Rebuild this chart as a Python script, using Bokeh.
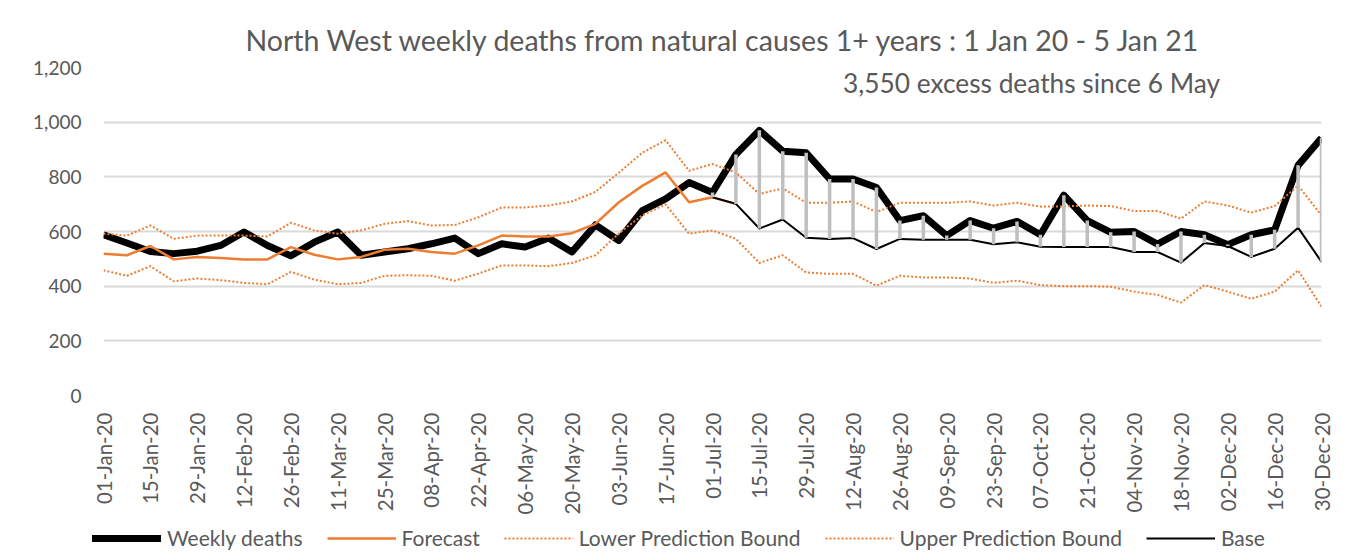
import math
from bokeh.plotting import figure
from bokeh.layouts import column
from bokeh.models import (ColumnDataSource, Range1d, FixedTicker, NumeralTickFormatter,
                          Label, Legend, LegendItem, Title)
from bokeh.embed import file_html
from bokeh.resources import INLINE

nan = float("nan")

# ---------------- data ----------------
tick_labels = ["01-Jan-20", "15-Jan-20", "29-Jan-20", "12-Feb-20", "26-Feb-20", "11-Mar-20",
               "25-Mar-20", "08-Apr-20", "22-Apr-20", "06-May-20", "20-May-20", "03-Jun-20",
               "17-Jun-20", "01-Jul-20", "15-Jul-20", "29-Jul-20", "12-Aug-20", "26-Aug-20",
               "09-Sep-20", "23-Sep-20", "07-Oct-20", "21-Oct-20", "04-Nov-20", "18-Nov-20",
               "02-Dec-20", "16-Dec-20", "30-Dec-20"]

weekly_deaths = [588, 558, 527, 519, 528, 549, 598, 549, 511, 561, 598, 513, 525, 537,
                 555, 576, 519, 555, 543, 576, 525, 624, 567, 676, 719, 779, 743, 882,
                 970, 894, 888, 792, 792, 761, 640, 658, 585, 640, 612, 637, 588,
                 733, 640, 597, 600, 554, 600, 588, 552, 588, 606, 842, 942]

forecast = [519, 513, 547, 498, 507, 503, 498, 498, 543, 515, 498, 507, 533, 537,
            525, 519, 549, 585, 582, 582, 594, 628, 707, 767, 816, 707, 725, 701] + [nan] * 25

lower_bound = [458, 438, 473, 418, 428, 422, 412, 407, 452, 424, 407, 412, 438, 440,
               438, 420, 446, 476, 476, 473, 485, 513, 593, 659, 699, 592, 604, 573,
               485, 513, 450, 445, 445, 402, 438, 432, 432, 428, 412, 420, 404,
               400, 400, 398, 380, 368, 340, 404, 380, 354, 380, 458, 325]

upper_bound = [592, 585, 622, 573, 585, 585, 585, 582, 632, 604, 592, 604, 628, 638,
               622, 624, 652, 688, 688, 695, 710, 745, 815, 888, 934, 822, 847, 816,
               737, 758, 705, 705, 710, 671, 705, 705, 705, 710, 695, 705, 691,
               692, 695, 693, 675, 675, 647, 710, 695, 669, 693, 768, 659]

base = [nan] * 26 + [725, 701, 611, 644, 577, 573, 576, 536, 573, 570, 570, 570, 553, 561,
                     544, 543, 543, 543, 525, 525, 486, 558, 547, 507, 537, 614, 489]

series_names = ["Weekly deaths", "Forecast", "Lower Prediction Bound",
                "Upper Prediction Bound", "Base"]
title_text = "North West weekly deaths from natural causes 1+ years : 1 Jan 20 - 5 Jan 21"
note_text = "3,550 excess deaths since 6 May"

# ---------------- styles ----------------
FONT = "Lato"
TXT = "#595959"
ORANGE = "#ED7D31"
styles = [dict(line_color="black", line_width=7, line_join="round"),
          dict(line_color=ORANGE, line_width=2.5),
          dict(line_color=ORANGE, line_width=2, line_dash="2 2"),
          dict(line_color=ORANGE, line_width=2, line_dash="2 2"),
          dict(line_color="black", line_width=2)]

# ---------------- main chart ----------------
week = list(range(len(weekly_deaths)))
src = ColumnDataSource(dict(x=week, weekly=weekly_deaths, forecast=forecast,
                            lower=lower_bound, upper=upper_bound, base=base))
seg_idx = [i for i in week if base[i] == base[i]]
seg = ColumnDataSource(dict(x=seg_idx, y0=[base[i] for i in seg_idx],
                            y1=[weekly_deaths[i] for i in seg_idx]))

p = figure(width=1339, height=518, output_backend="svg", toolbar_location=None,
           x_range=Range1d(0, len(week) - 1), y_range=Range1d(0, 1200),
           min_border_left=103, min_border_right=18, min_border_top=67, min_border_bottom=123)
p.title = Title(text=title_text, align="left", text_font=FONT, text_font_size="28.5px",
                text_color=TXT, text_font_style="normal", standoff=22, offset=142)
p.outline_line_color = None
p.background_fill_color = "white"
p.border_fill_color = "white"

p.xgrid.visible = False
p.ygrid.grid_line_color = "#D9D9D9"
p.ygrid.grid_line_width = 2

p.yaxis.ticker = FixedTicker(ticks=[0, 200, 400, 600, 800, 1000, 1200])
p.yaxis.formatter = NumeralTickFormatter(format="0,0")
p.xaxis.ticker = FixedTicker(ticks=list(range(0, len(week), 2)))
p.xaxis.major_label_overrides = {i * 2: lbl for i, lbl in enumerate(tick_labels)}
p.xaxis.major_label_orientation = math.pi / 2
for ax in (p.xaxis[0], p.yaxis[0]):
    ax.axis_line_color = None
    ax.major_tick_line_color = None
    ax.minor_tick_line_color = None
    ax.major_tick_out = 0
    ax.major_tick_in = 0
    ax.minor_tick_out = 0
    ax.minor_tick_in = 0
    ax.major_label_text_font = FONT
    ax.major_label_text_color = TXT
p.yaxis.major_label_text_font_size = "19px"
p.yaxis.major_label_standoff = 22
p.xaxis.major_label_text_font_size = "20.5px"
p.xaxis.major_label_standoff = 17

cols = ["weekly", "forecast", "lower", "upper", "base"]
for c, st in zip(cols, styles):
    p.line("x", c, source=src, **st)
p.segment(x0="x", y0="y0", x1="x", y1="y1", source=seg, line_color="#BFBFBF", line_width=3.5)

p.add_layout(Label(x=928, y=313, x_units="screen", y_units="screen", text=note_text,
                   text_align="center", text_baseline="middle", text_font=FONT,
                   text_font_size="26.3px", text_color=TXT))

# ---------------- legend strip ----------------
q = figure(width=1339, height=34, output_backend="svg", toolbar_location=None,
           x_axis_location=None, y_axis_location=None,
           x_range=Range1d(0, 1), y_range=Range1d(0, 1),
           min_border_left=0, min_border_right=0, min_border_top=0, min_border_bottom=0)
legend_x = 0
try:
    q.frame_align = False
    legend_x = 92
except Exception:
    legend_x = 0
q.grid.visible = False
q.outline_line_color = None
q.border_fill_color = "white"
items = []
for k, (name, st) in enumerate(zip(series_names, styles)):
    st2 = dict(st)
    if k == 0:
        st2["line_cap"] = "round"
    r = q.line(x=[nan], y=[nan], **st2)
    items.append(LegendItem(label=name, renderers=[r]))
legend = Legend(items=items, orientation="horizontal", location=(legend_x, 2),
                label_text_font=FONT, label_text_font_size="21px", label_text_color=TXT,
                glyph_width=69, glyph_height=20, label_height=20, label_standoff=6,
                spacing=24, padding=0, margin=0, border_line_color=None,
                background_fill_alpha=0)
q.add_layout(legend)

layout = column(p, q, spacing=0)
open("out.html", "w").write(file_html(layout, INLINE))
